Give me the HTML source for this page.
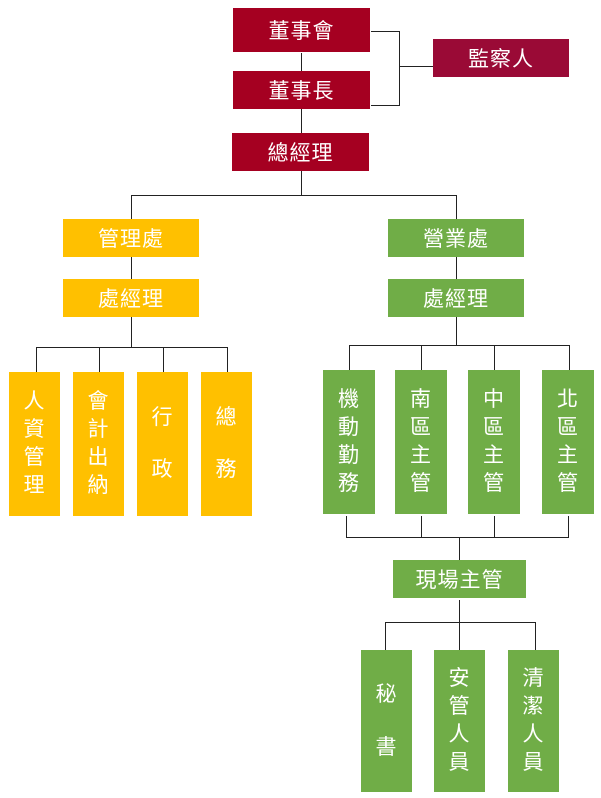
<!DOCTYPE html>
<html><head><meta charset="utf-8"><style>
body{margin:0;width:601px;height:798px;background:#fff;position:relative;overflow:hidden;font-family:"Liberation Sans","Noto Sans CJK TC",sans-serif;}
.b{position:absolute;color:#fff;display:flex;align-items:center;justify-content:center;font-size:21px;letter-spacing:1px;}
.r{background:#a50021}.y{background:#ffc000}.g{background:#70ad47}
.v{flex-direction:column;font-size:21px;line-height:28px;}
.l{position:absolute;background:#222;}
</style></head><body>
<div class="b r" style="left:233px;top:8px;width:137px;height:44px">董事會</div>
<div class="b r" style="left:233px;top:71px;width:137px;height:38px">董事長</div>
<div class="b r" style="left:232px;top:133px;width:137px;height:38px">總經理</div>
<div class="b" style="left:433px;top:39px;width:136px;height:38px;background:#9a0a36">監察人</div>
<div class="l" style="left:301px;top:53px;width:1px;height:18px"></div>
<div class="l" style="left:301px;top:109px;width:1px;height:24px"></div>
<div class="l" style="left:371px;top:31px;width:29px;height:1px"></div>
<div class="l" style="left:371px;top:105px;width:29px;height:1px"></div>
<div class="l" style="left:399px;top:31px;width:1px;height:75px"></div>
<div class="l" style="left:399px;top:66px;width:34px;height:1px"></div>
<div class="l" style="left:301px;top:171px;width:1px;height:24px"></div>
<div class="l" style="left:131px;top:195px;width:326px;height:1px"></div>
<div class="l" style="left:131px;top:195px;width:1px;height:24px"></div>
<div class="l" style="left:456px;top:195px;width:1px;height:24px"></div>
<div class="b y" style="left:63px;top:219px;width:136px;height:38px">管理處</div>
<div class="b g" style="left:388px;top:219px;width:136px;height:38px">營業處</div>
<div class="l" style="left:131px;top:257px;width:1px;height:22px"></div>
<div class="l" style="left:456px;top:257px;width:1px;height:22px"></div>
<div class="b y" style="left:63px;top:279px;width:136px;height:38px">處經理</div>
<div class="b g" style="left:388px;top:279px;width:136px;height:38px">處經理</div>
<div class="l" style="left:131px;top:317px;width:1px;height:30px"></div>
<div class="l" style="left:36px;top:347px;width:192px;height:1px"></div>
<div class="l" style="left:36px;top:347px;width:1px;height:25px"></div>
<div class="l" style="left:99px;top:347px;width:1px;height:25px"></div>
<div class="l" style="left:163px;top:347px;width:1px;height:25px"></div>
<div class="l" style="left:227px;top:347px;width:1px;height:25px"></div>
<div class="b y v" style="left:9px;top:372px;width:51px;height:144px"><span>人</span><span>資</span><span>管</span><span>理</span></div>
<div class="b y v" style="left:73px;top:372px;width:51px;height:144px"><span>會</span><span>計</span><span>出</span><span>納</span></div>
<div class="b y v" style="left:137px;top:372px;width:51px;height:144px;line-height:52px"><span>行</span><span>政</span></div>
<div class="b y v" style="left:201px;top:372px;width:51px;height:144px;line-height:52px"><span>總</span><span>務</span></div>
<div class="l" style="left:456px;top:317px;width:1px;height:28px"></div>
<div class="l" style="left:349px;top:345px;width:221px;height:1px"></div>
<div class="l" style="left:349px;top:345px;width:1px;height:25px"></div>
<div class="l" style="left:421px;top:345px;width:1px;height:25px"></div>
<div class="l" style="left:494px;top:345px;width:1px;height:25px"></div>
<div class="l" style="left:569px;top:345px;width:1px;height:25px"></div>
<div class="b g v" style="left:323px;top:370px;width:52px;height:144px"><span>機</span><span>動</span><span>勤</span><span>務</span></div>
<div class="b g v" style="left:395px;top:370px;width:52px;height:144px"><span>南</span><span>區</span><span>主</span><span>管</span></div>
<div class="b g v" style="left:468px;top:370px;width:52px;height:144px"><span>中</span><span>區</span><span>主</span><span>管</span></div>
<div class="b g v" style="left:542px;top:370px;width:52px;height:144px"><span>北</span><span>區</span><span>主</span><span>管</span></div>
<div class="l" style="left:346px;top:516px;width:1px;height:21px"></div>
<div class="l" style="left:421px;top:516px;width:1px;height:21px"></div>
<div class="l" style="left:494px;top:516px;width:1px;height:21px"></div>
<div class="l" style="left:568px;top:516px;width:1px;height:21px"></div>
<div class="l" style="left:346px;top:537px;width:223px;height:1px"></div>
<div class="l" style="left:459px;top:537px;width:1px;height:23px"></div>
<div class="b g" style="left:393px;top:560px;width:133px;height:38px">現場主管</div>
<div class="l" style="left:459px;top:600px;width:1px;height:22px"></div>
<div class="l" style="left:385px;top:622px;width:151px;height:1px"></div>
<div class="l" style="left:385px;top:622px;width:1px;height:28px"></div>
<div class="l" style="left:459px;top:622px;width:1px;height:28px"></div>
<div class="l" style="left:535px;top:622px;width:1px;height:28px"></div>
<div class="b g v" style="left:361px;top:650px;width:51px;height:142px;line-height:53px"><span>秘</span><span>書</span></div>
<div class="b g v" style="left:434px;top:650px;width:51px;height:142px"><span>安</span><span>管</span><span>人</span><span>員</span></div>
<div class="b g v" style="left:508px;top:650px;width:51px;height:142px"><span>清</span><span>潔</span><span>人</span><span>員</span></div>
</body></html>
